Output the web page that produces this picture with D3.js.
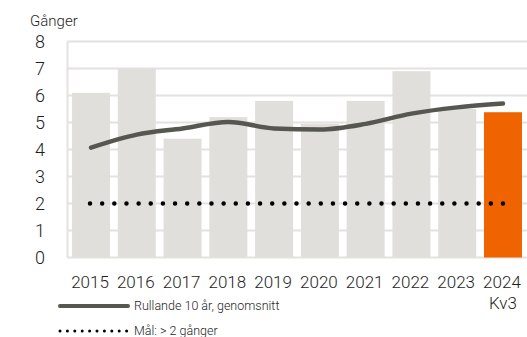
<!DOCTYPE html>
<html lang="sv">
<head>
<meta charset="utf-8">
<title>Gånger</title>
<script src="https://cdn.jsdelivr.net/npm/d3@7"></script>
<style>
  body { margin: 0; background: #fff; }
  svg text { font-family: Roboto, Lato, sans-serif; font-weight: 300; fill: #1e1e1e; }
</style>
</head>
<body>
<svg id="chart" width="527" height="337"></svg>
<script>
// data
var years = ['2015', '2016', '2017', '2018', '2019', '2020', '2021', '2022', '2023', '2024'];
var bars = [6.1, 7.0, 4.4, 5.2, 5.8, 4.95, 5.8, 6.9, 5.5, 5.38];
var rolling = [4.07, 4.55, 4.78, 5.02, 4.78, 4.74, 4.95, 5.33, 5.56, 5.7];
var target = 2;
var yTicks = [0, 1, 2, 3, 4, 5, 6, 7, 8];

var svg = d3.select('#chart');

var x = d3.scaleBand().domain(years).range([67, 527])
    .paddingInner(0.17).paddingOuter(0.11);
var y = d3.scaleLinear().domain([0, 8]).range([257.5, 41.5]);

// grid
svg.append('g').selectAll('line')
    .data(yTicks).enter().append('line')
    .attr('x1', 67).attr('x2', 527)
    .attr('y1', function(d) { return y(d); })
    .attr('y2', function(d) { return y(d); })
    .attr('stroke', '#e3e2de')
    .attr('stroke-width', 2);
svg.append('line')
    .attr('x1', 67.5).attr('x2', 67.5)
    .attr('y1', y(8)).attr('y2', y(0))
    .attr('stroke', '#e3e2de')
    .attr('stroke-width', 2);

// bars
svg.append('g').selectAll('rect')
    .data(bars).enter().append('rect')
    .attr('x', function(d, i) { return x(years[i]); })
    .attr('width', x.bandwidth())
    .attr('y', function(d) { return y(d); })
    .attr('height', function(d) { return y(0) - y(d); })
    .attr('fill', function(d, i) { return i == years.length - 1 ? '#f06400' : '#e0dfdb'; });

// target dotted line, 35 dots from first to last bar centre
var cx = function(i) { return x(years[i]) + x.bandwidth() / 2; };
var tx1 = cx(0) - 1, tx2 = cx(years.length - 1);
svg.append('line')
    .attr('x1', tx1).attr('x2', tx2 + 0.5)
    .attr('y1', y(target)).attr('y2', y(target))
    .attr('stroke', '#000')
    .attr('stroke-width', 4.5)
    .attr('stroke-linecap', 'round')
    .attr('stroke-dasharray', '0 ' + ((tx2 - tx1) / 34));

// rolling average
var line = d3.line()
    .x(function(d, i) { return cx(i); })
    .y(function(d) { return y(d); })
    .curve(d3.curveMonotoneX);
svg.append('path')
    .datum(rolling)
    .attr('d', line)
    .attr('fill', 'none')
    .attr('stroke', '#575752')
    .attr('stroke-width', 4.5)
    .attr('stroke-linecap', 'round');

// y axis labels
svg.append('g').selectAll('text')
    .data(yTicks).enter().append('text')
    .attr('x', 40)
    .attr('y', function(d) { return y(d); })
    .attr('dy', '0.35em')
    .attr('text-anchor', 'middle')
    .style('font-size', '18px')
    .text(function(d) { return d; });

svg.append('text')
    .attr('x', 30).attr('y', 26)
    .style('font-size', '15px')
    .text('Gånger');

// x axis labels
svg.append('g').selectAll('text')
    .data(years).enter().append('text')
    .attr('x', function(d) { return x(d) + x.bandwidth() / 2 - 1; })
    .attr('y', 288)
    .attr('text-anchor', 'middle')
    .style('font-size', '17px')
    .text(function(d) { return d; });
svg.append('text')
    .attr('x', cx(years.length - 1)).attr('y', 309)
    .attr('text-anchor', 'middle')
    .style('font-size', '17px')
    .text('Kv3');

// legend
svg.append('line')
    .attr('x1', 60).attr('x2', 128)
    .attr('y1', 306).attr('y2', 306)
    .attr('stroke', '#575752')
    .attr('stroke-width', 4)
    .attr('stroke-linecap', 'round');
svg.append('text')
    .attr('x', 134).attr('y', 306).attr('dy', '0.35em')
    .style('font-size', '12.5px')
    .text('Rullande 10 år, genomsnitt');
svg.append('line')
    .attr('x1', 60).attr('x2', 128)
    .attr('y1', 331).attr('y2', 331)
    .attr('stroke', '#000')
    .attr('stroke-width', 3)
    .attr('stroke-linecap', 'round')
    .attr('stroke-dasharray', '0 7.4');
svg.append('text')
    .attr('x', 134).attr('y', 331).attr('dy', '0.35em')
    .style('font-size', '12.5px')
    .text('Mål: > 2 gånger');
</script>
</body>
</html>
